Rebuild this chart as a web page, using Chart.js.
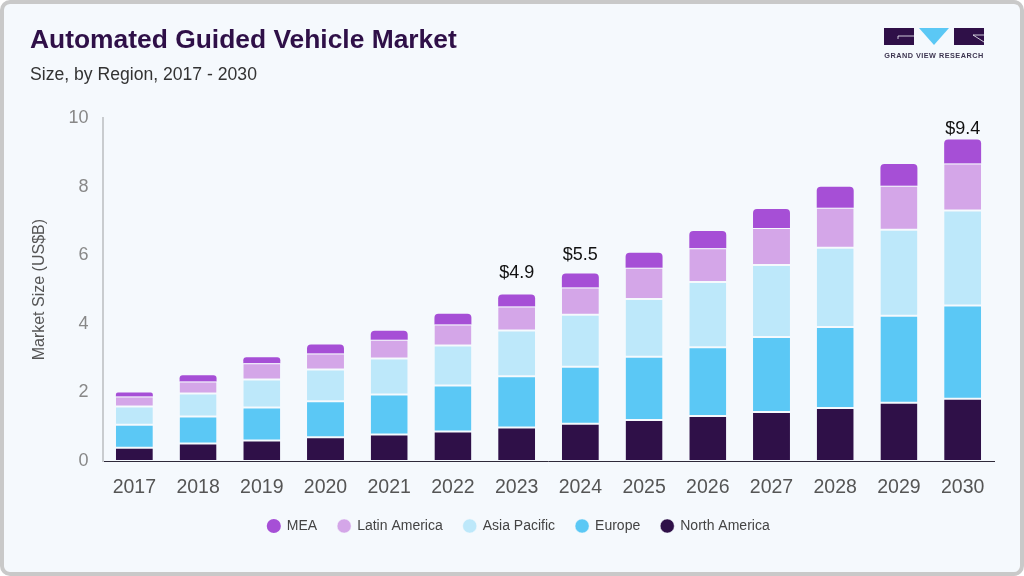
<!DOCTYPE html>
<html><head><meta charset="utf-8">
<script src="https://cdn.jsdelivr.net/npm/chart.js@4"></script>
<style>
html,body{margin:0;padding:0;width:1024px;height:576px;overflow:hidden;background:#fff}
#frame{position:absolute;left:0;top:0;width:1024px;height:576px;box-sizing:border-box;border:4px solid #c9c9c9;border-radius:10px;background:#f5f9fd}
#chart{position:absolute;left:0;top:0}
#logo{position:absolute;left:884px;top:28px;width:100px;height:32px}
</style></head><body>
<div id="frame"></div>
<canvas id="chart" width="1024" height="576" style="width:1024px;height:576px"></canvas>
<svg id="logo" viewBox="0 0 100 32" xmlns="http://www.w3.org/2000/svg">
<rect x="0" y="0" width="30" height="17" fill="#2f1048"/>
<path d="M14 8H30M14 8V11" stroke="#f5f9fd" stroke-width="0.8" fill="none"/>
<polygon points="35,0 65,0 50,17" fill="#5bc8f5"/>
<rect x="70" y="0" width="30" height="17" fill="#2f1048"/>
<path d="M89 7L100 14M89 7H100" stroke="#f5f9fd" stroke-width="0.8" fill="none"/>
<text x="50" y="29.5" text-anchor="middle" font-family="Liberation Sans" font-weight="700" font-size="7.3" letter-spacing="0.47" fill="#3d3550">GRAND VIEW RESEARCH</text>
</svg>
<script>
const years=['2017','2018','2019','2020','2021','2022','2023','2024','2025','2026','2027','2028','2029','2030'];
const northAmerica=[0.39,0.51,0.60,0.69,0.77,0.86,0.98,1.09,1.20,1.31,1.43,1.55,1.70,1.82];
const europe=[0.67,0.79,0.96,1.05,1.17,1.34,1.49,1.66,1.84,2.01,2.19,2.36,2.54,2.72];
const asiaPacific=[0.53,0.67,0.82,0.93,1.05,1.17,1.34,1.52,1.69,1.90,2.10,2.31,2.51,2.77];
const latinAmerica=[0.29,0.35,0.47,0.47,0.55,0.61,0.70,0.79,0.91,0.99,1.08,1.17,1.28,1.37];
const mea=[0.12,0.18,0.18,0.26,0.26,0.32,0.35,0.41,0.44,0.50,0.55,0.61,0.64,0.70];
const calloutYears=['2023','2024','2030'];
const calloutTexts=['$4.9','$5.5','$9.4'];
const FONT='"Liberation Sans", Arial, sans-serif';
const seg=(label,data,color,extra)=>Object.assign({label,data,backgroundColor:color,borderColor:'#f5f9fd',
  borderWidth:{top:1,bottom:1,left:0,right:0},borderSkipped:false,barPercentage:0.58,categoryPercentage:1},extra||{});
const callouts={id:'callouts',
  afterLayout(c){c.legend.left+=13;},
  afterDatasetsDraw(c){
    const gaps=[21,19,11];
    const ctx=c.ctx,x=c.scales.x,y=c.scales.y;
    ctx.save();ctx.font='18px '+FONT;ctx.fillStyle='#111';ctx.textAlign='center';ctx.textBaseline='middle';
    calloutYears.forEach((yr,i)=>{
      const k=years.indexOf(yr);
      const total=northAmerica[k]+europe[k]+asiaPacific[k]+latinAmerica[k]+mea[k];
      ctx.fillText(calloutTexts[i],x.getPixelForValue(k),y.getPixelForValue(total)-gaps[i]);
    });
    ctx.restore();
  }};
new Chart(document.getElementById('chart'),{
  type:'bar',
  data:{labels:years,datasets:[
    seg('North America',northAmerica,'#2f1048'),
    seg('Europe',europe,'#5bc8f5'),
    seg('Asia Pacific',asiaPacific,'#bde8fa'),
    seg('Latin America',latinAmerica,'#d4a6e8'),
    seg('MEA',mea,'#a64fd6',{borderRadius:{topLeft:4,topRight:4,bottomLeft:0,bottomRight:0},borderWidth:0})
  ]},
  plugins:[callouts],
  options:{
    responsive:false,animation:false,
    layout:{padding:{left:30,right:29.5,top:25,bottom:33}},
    plugins:{
      tooltip:{enabled:false},
      title:{display:true,text:'Automated Guided Vehicle Market',align:'start',color:'#2f1048',
        font:{family:FONT,size:26.4,weight:'700'},padding:{top:0,bottom:8}},
      subtitle:{display:true,text:'Size, by Region, 2017 - 2030',align:'start',color:'#333',
        font:{family:FONT,size:17.6,weight:'400'},padding:{top:0,bottom:32.5}},
      legend:{position:'bottom',reverse:true,align:'center',
        labels:{usePointStyle:true,pointStyle:'circle',boxWidth:12,boxHeight:10,padding:21,color:'#444',
          font:{family:FONT,size:14}}}
    },
    scales:{
      x:{stacked:true,afterFit(a){a.height=37;},grid:{display:false,drawTicks:false},
        border:{color:'#2f2a3a',width:1},
        ticks:{color:'#555',font:{family:FONT,size:19.5},padding:15,maxRotation:0}},
      y:{stacked:true,min:0,max:10,afterFit(a){a.width=72.5;},
        grid:{display:false,drawTicks:false},
        border:{color:'#c9cccf',width:2},
        ticks:{stepSize:2,color:'#888',font:{family:FONT,size:18},padding:14},
        title:{display:true,text:'Market Size (US$B)',color:'#555',font:{family:FONT,size:16},padding:{top:0,bottom:8}}}
    }
  }
});
</script>
</body></html>
